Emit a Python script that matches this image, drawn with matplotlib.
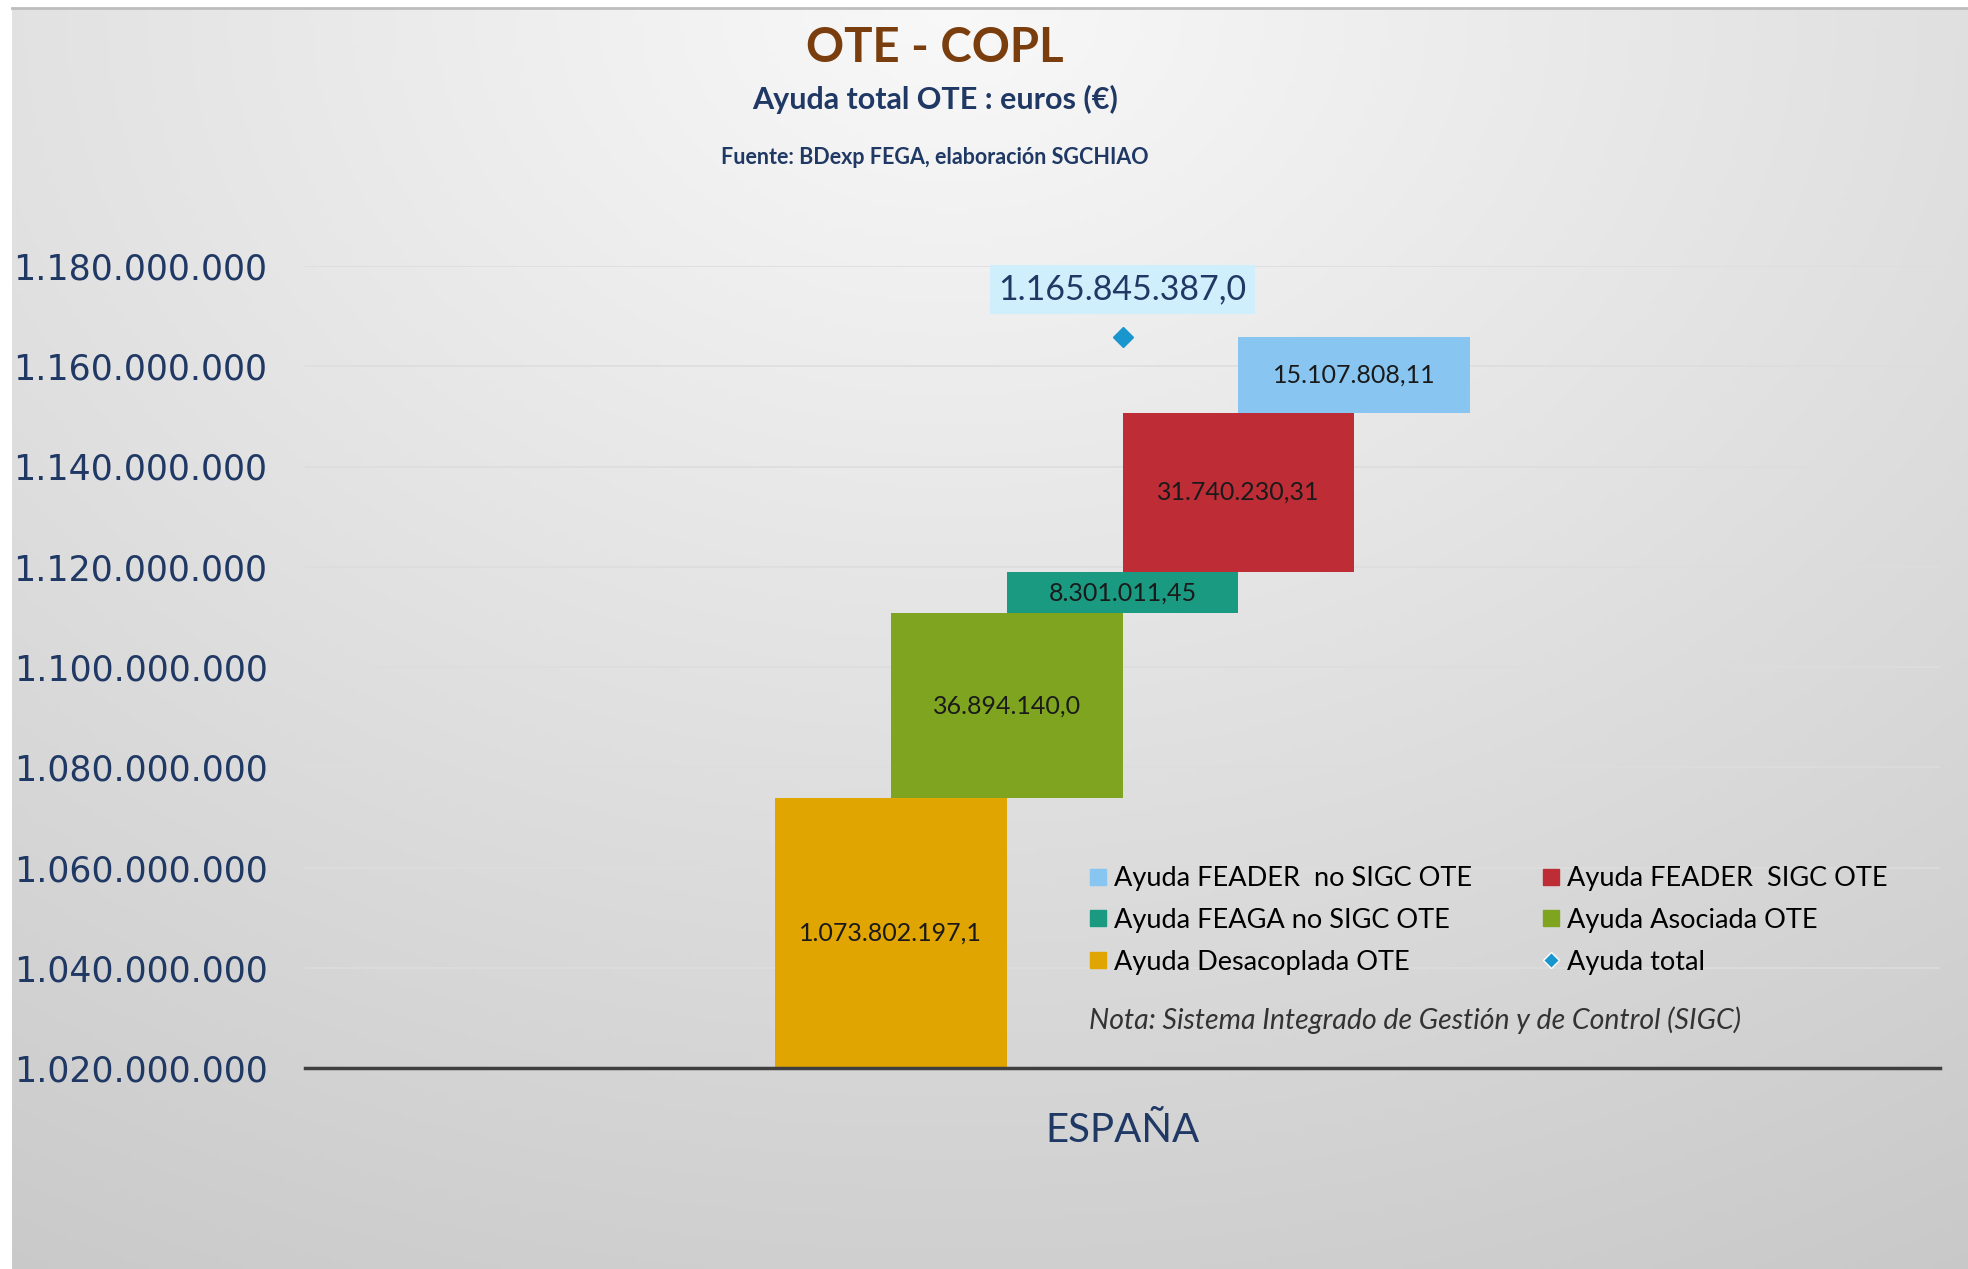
import matplotlib.pyplot as plt
import numpy as np
from matplotlib.lines import Line2D

# --- data ---
category = "ESPAÑA"
series_names = ["Ayuda Desacoplada OTE", "Ayuda Asociada OTE", "Ayuda FEAGA no SIGC OTE",
                "Ayuda FEADER  SIGC OTE", "Ayuda FEADER  no SIGC OTE"]
series_values = [1073802197.1, 36894140.0, 8301011.45, 31740230.31, 15107808.11]
series_decimals = [1, 1, 2, 2, 2]
series_colors = ["#E0A500", "#7FA520", "#1B9A82", "#BE2D36", "#88C5F1"]
total_name = "Ayuda total"
total_value = 1165845387.0
y_ticks = [1020000000, 1040000000, 1060000000, 1080000000, 1100000000,
           1120000000, 1140000000, 1160000000, 1180000000]

NAVY = "#1F3864"
FONT = "Lato"


def es_fmt(v, dec):
    s = f"{v:,.{dec}f}"
    return s.replace(",", "X").replace(".", ",").replace("X", ".")


fig = plt.figure(figsize=(19.68, 12.69), dpi=100, facecolor="white")

# background panel with soft radial gradient
bg = fig.add_axes([0.006, 0, 0.994, 0.994])
yy, xx = np.mgrid[0:1:300j, 0:1:460j]
r = np.sqrt(((xx - 0.48) * 1.1) ** 2 + (yy * 0.95) ** 2)
shade = np.clip(0.975 - 0.17 * r, 0.76, 0.98)
bg.imshow(np.dstack([shade, shade, shade]), aspect="auto", extent=[0, 1, 0, 1], origin="upper")
bg.set_axis_off()
bg.set_zorder(-5)
bg.plot([0, 1], [1, 1], color="#BDBDBD", lw=2, transform=bg.transAxes, clip_on=False)

ax = fig.add_axes([305 / 1968, 1 - 1068 / 1269, (1940 - 305) / 1968, (1068 - 266) / 1269])
ax.patch.set_alpha(0)

width = 0.2
offsets = np.arange(len(series_values)) * 0.1 - 0.2
bottoms = np.concatenate([[0], np.cumsum(series_values)[:-1]])
handles = {}
for i, (name, val, dec, col) in enumerate(zip(series_names, series_values, series_decimals, series_colors)):
    ax.bar(offsets[i], val, width=width, bottom=bottoms[i], color=col, zorder=3)
    mid = bottoms[i] + val / 2 if i > 0 else (1020000000 + val) / 2
    ax.text(offsets[i], mid, es_fmt(val, dec), ha="center", va="center",
            fontsize=18, color="#1a1a1a", family=FONT, zorder=4)
    handles[name] = Line2D([], [], marker="s", ls="none", color=col, markersize=11)

ax.plot([0], [total_value], marker="D", ls="none", color="#1A96CF", markersize=10, zorder=5)
handles[total_name] = Line2D([], [], marker="D", ls="none", color="#1A96CF",
                             markeredgecolor="white", markersize=8)
ax.annotate(es_fmt(total_value, 1), (0, total_value), xytext=(0, 34), textcoords="offset points",
            ha="center", va="center", fontsize=24.5, color=NAVY, family=FONT, zorder=6,
            bbox=dict(boxstyle="square,pad=0.25", fc="#CFEFFC", ec="none"))

ax.set_xlim(-0.705, 0.705)
ax.set_ylim(1020000000, 1180000000)
ax.set_yticks(y_ticks)
ax.set_yticklabels([es_fmt(v, 0) for v in y_ticks], fontsize=25, color=NAVY, family="DejaVu Sans")
ax.set_xticks([0])
ax.set_xticklabels([category], fontsize=29, color=NAVY, family=FONT)
ax.tick_params(axis="y", length=0, pad=27)
ax.tick_params(axis="x", length=0, pad=32)
ax.grid(axis="y", color="#DDDDDD", lw=1.2, zorder=0)
for s in ["top", "right", "left"]:
    ax.spines[s].set_visible(False)
ax.spines["bottom"].set_color("#3F3F3F")
ax.spines["bottom"].set_linewidth(2.5)
ax.spines["bottom"].set_zorder(6)

order = ["Ayuda FEADER  no SIGC OTE", "Ayuda FEAGA no SIGC OTE", "Ayuda Desacoplada OTE",
         "Ayuda FEADER  SIGC OTE", "Ayuda Asociada OTE", total_name]
fig.legend([handles[n] for n in order], order, ncol=2, loc="upper left",
           bbox_to_anchor=(1090 / 1968, 1 - 866 / 1269), frameon=False,
           prop={"family": FONT, "size": 19.5}, handlelength=0.6, handletextpad=0.3,
           labelspacing=0.62, columnspacing=2.6, borderpad=0, borderaxespad=0)
fig.text(1089 / 1968, 1 - 1020 / 1269, "Nota: Sistema Integrado de Gestión y de Control (SIGC)",
         fontsize=20.5, style="italic", color="#333333", family=FONT, va="center")

fig.text(0.475, 1 - 48 / 1269, "OTE - COPL", fontsize=34, weight="bold", color="#7A3E0E",
         family=FONT, ha="center", va="center")
fig.text(0.475, 1 - 99 / 1269, "Ayuda total OTE : euros (€)", fontsize=22, weight="bold",
         color=NAVY, family=FONT, ha="center", va="center")
fig.text(0.475, 1 - 157 / 1269, "Fuente: BDexp FEGA, elaboración SGCHIAO", fontsize=15.5,
         weight="bold", color=NAVY, family=FONT, ha="center", va="center")

fig.savefig("out.png", dpi=100)
